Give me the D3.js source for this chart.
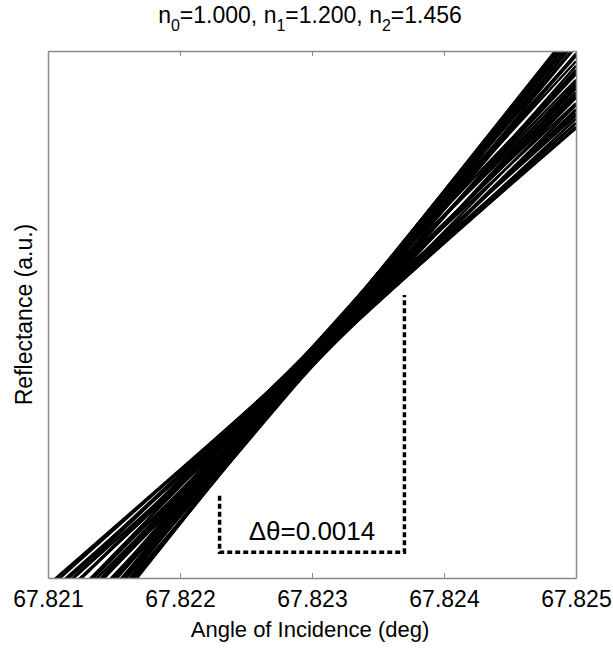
<!DOCTYPE html>
<html>
<head>
<meta charset="utf-8">
<script src="https://cdn.jsdelivr.net/npm/d3@7"></script>
<style>
  html, body { margin: 0; padding: 0; background: #fff; }
  svg { display: block; font-family: Arial, "Liberation Sans", Helvetica, sans-serif; }
</style>
</head>
<body>
<svg id="chart" width="613" height="648"></svg>
<script>
// Angle-of-incidence axis
const xDomain = [67.821, 67.825];
const xTicks = [67.821, 67.822, 67.823, 67.824, 67.825];
const xTickLabels = ["67.821", "67.822", "67.823", "67.824", "67.825"];

// Reflectance (arbitrary units): each curve given by its value at both ends of the angle range
const yDomain = [0, 1];
const reflectanceAtStart = [
  -0.0135, -0.0135, -0.0303, -0.0206, -0.0445, -0.0357, -0.0565, -0.0369,
  -0.0597, -0.0449, -0.0796, -0.0626, -0.0919, -0.0631, -0.0870, -0.1076,
  -0.0835, -0.1101, -0.0879, -0.1269, -0.1139, -0.1394, -0.1095, -0.1394,
  -0.1177, -0.1565, -0.1403, -0.1691, -0.1415, -0.1662, -0.1536, -0.1881,
  -0.1662, -0.1939, -0.1784, -0.2019, -0.1907, -0.2074, -0.2059, -0.2133
];
const reflectanceAtEnd = [
  0.8532, 0.8631, 0.8564, 0.8771, 0.8633, 0.8820, 0.8712, 0.9009,
  0.8881, 0.9129, 0.8892, 0.9163, 0.8970, 0.9358, 0.9219, 0.9114,
  0.9454, 0.9289, 0.9621, 0.9331, 0.9561, 0.9407, 0.9806, 0.9607,
  0.9934, 0.9646, 0.9909, 0.9721, 1.0096, 0.9950, 1.0176, 0.9941,
  1.0260, 1.0083, 1.0339, 1.0204, 1.0417, 1.0349, 1.0475, 1.0501
];

// Angular spread marker
const spreadStart = 67.8223;
const spreadEnd = 67.8237;
const spreadLeftTop = 0.156;
const spreadRightTop = 0.537;
const spreadBottom = 0.049;
const spreadLabel = "\u0394\u03B8=0.0014";

const svg = d3.select("#chart");
const margin = { left: 48, right: 37, top: 51, bottom: 70 };
const W = 613, H = 648;

const x = d3.scaleLinear().domain(xDomain).range([margin.left, W - margin.right]);
const y = d3.scaleLinear().domain(yDomain).range([H - margin.bottom, margin.top]);

svg.append("defs").append("clipPath").attr("id", "plotClip")
  .append("rect")
  .attr("x", x.range()[0]).attr("y", y.range()[1])
  .attr("width", x.range()[1] - x.range()[0])
  .attr("height", y.range()[0] - y.range()[1]);

// Reflectance curves
const curves = reflectanceAtStart.map((r0, i) => [
  [xDomain[0], r0],
  [xDomain[1], reflectanceAtEnd[i]]
]);
const line = d3.line().x(d => x(d[0])).y(d => y(d[1]));

svg.append("g").attr("clip-path", "url(#plotClip)")
  .selectAll("path").data(curves).join("path")
  .attr("d", line)
  .attr("fill", "none")
  .attr("stroke", "#000")
  .attr("stroke-width", 2.5);

// Axis frame
const axisColor = "#8a8a8a";
const xAxisBottom = d3.axisBottom(x).tickValues(xTicks).tickFormat((d, i) => xTickLabels[i])
  .tickSizeInner(-5).tickSizeOuter(0);
const gx = svg.append("g").attr("transform", `translate(0,${y.range()[0]})`).call(xAxisBottom);
gx.select(".domain").attr("stroke", axisColor).attr("stroke-width", 1.5);
gx.selectAll(".tick line").attr("stroke", axisColor);
gx.selectAll(".tick text")
  .attr("fill", "#000").attr("font-size", 23).attr("font-family", "Arial, 'Liberation Sans', sans-serif")
  .attr("dy", null).attr("y", 29);

const xAxisTop = d3.axisTop(x).tickValues(xTicks).tickFormat("").tickSizeInner(-5).tickSizeOuter(0);
const gxt = svg.append("g").attr("transform", `translate(0,${y.range()[1]})`).call(xAxisTop);
gxt.select(".domain").attr("stroke", axisColor).attr("stroke-width", 1.5);
gxt.selectAll(".tick line").attr("stroke", axisColor);

const yAxisLeft = d3.axisLeft(y).tickValues([]).tickSizeOuter(0);
const gy = svg.append("g").attr("transform", `translate(${x.range()[0]},0)`).call(yAxisLeft);
gy.select(".domain").attr("stroke", axisColor).attr("stroke-width", 1.5);

const yAxisRight = d3.axisRight(y).tickValues([]).tickSizeOuter(0);
const gyr = svg.append("g").attr("transform", `translate(${x.range()[1]},0)`).call(yAxisRight);
gyr.select(".domain").attr("stroke", axisColor).attr("stroke-width", 1.5);

// Angular spread bracket
const bracket = d3.line().x(d => x(d[0])).y(d => y(d[1]));
svg.append("path")
  .attr("d", bracket([
    [spreadStart, spreadLeftTop],
    [spreadStart, spreadBottom],
    [spreadEnd, spreadBottom],
    [spreadEnd, spreadRightTop]
  ]))
  .attr("fill", "none")
  .attr("stroke", "#000")
  .attr("stroke-width", 3.5)
  .attr("stroke-dasharray", "5,3");

svg.append("text")
  .attr("x", x((spreadStart + spreadEnd) / 2))
  .attr("y", 540)
  .attr("text-anchor", "middle")
  .attr("font-size", 26)
  .attr("fill", "#000")
  .text(spreadLabel);

// Axis titles
const xMid = (x.range()[0] + x.range()[1]) / 2;
svg.append("text")
  .attr("x", xMid - 2).attr("y", 637)
  .attr("text-anchor", "middle").attr("font-size", 22).attr("fill", "#000")
  .text("Angle of Incidence (deg)");

svg.append("text")
  .attr("transform", `translate(32,${(y.range()[0] + y.range()[1]) / 2}) rotate(-90)`)
  .attr("text-anchor", "middle").attr("font-size", 23).attr("fill", "#000")
  .text("Reflectance (a.u.)");

// Title with refractive-index subscripts
const indices = [["0", "1.000"], ["1", "1.200"], ["2", "1.456"]];
const title = svg.append("text")
  .attr("x", xMid - 2).attr("y", 23)
  .attr("text-anchor", "middle").attr("font-size", 23).attr("fill", "#000");
indices.forEach(([sub, val], i) => {
  title.append("tspan").text("n");
  title.append("tspan").attr("font-size", 16).attr("dy", 8).text(sub);
  title.append("tspan").attr("dy", -8).text("=" + val + (i < indices.length - 1 ? ", " : ""));
});
</script>
</body>
</html>
